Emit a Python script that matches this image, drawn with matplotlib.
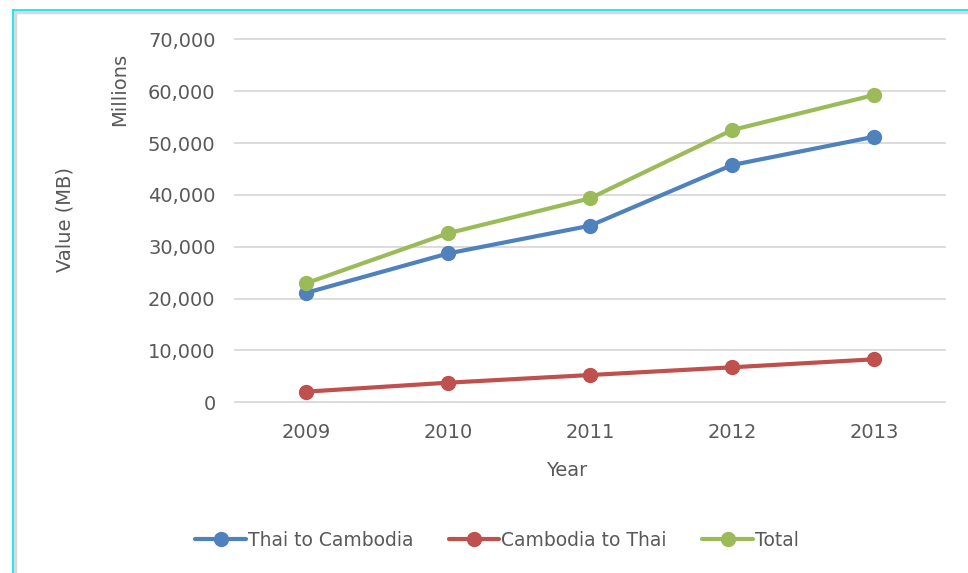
import numpy as np
import matplotlib.pyplot as plt
from matplotlib.lines import Line2D

# Values (millions of baht)
years = ['2009', '2010', '2011', '2012', '2013']
thai_to_cambodia = [21100, 28700, 34050, 45750, 51200]
cambodia_to_thai = [2050, 3780, 5260, 6750, 8290]
total = [22950, 32590, 39330, 52500, 59250]
y_ticks = [0, 10000, 20000, 30000, 40000, 50000, 60000, 70000]

text_col = '#595959'
grid_col = '#D9D9D9'

fig = plt.figure(figsize=(9.68, 5.73), dpi=100)
ax = fig.add_axes([235 / 968, 1 - 402.3 / 573, 710 / 968, 363 / 573])

x = np.arange(len(years))
series = [(thai_to_cambodia, '#4F81BD', 'Thai to Cambodia'),
          (cambodia_to_thai, '#C0504D', 'Cambodia to Thai'),
          (total, '#9BBB59', 'Total')]
for vals, col, lab in series:
    ax.plot(x, vals, color=col, linewidth=3, marker='o', markersize=10,
            label=lab, solid_capstyle='round', zorder=3)

ax.set_xlim(-0.5, len(years) - 0.5)
ax.set_ylim(0, 70000)
ax.set_yticks(y_ticks)
ax.set_yticklabels(['{:,}'.format(v) for v in y_ticks])
ax.set_xticks(x)
ax.set_xticklabels(years)
ax.grid(axis='y', color=grid_col, linewidth=1.3)
for gl in ax.get_ygridlines():
    gl.set_clip_on(False)
ax.set_axisbelow(True)
for s in ax.spines.values():
    s.set_visible(False)
ax.tick_params(length=0, labelsize=14, colors=text_col)
ax.tick_params(axis='y', pad=14)
ax.tick_params(axis='x', pad=15)

fig.text(567 / 968, 1 - 470 / 573, 'Year', ha='center', va='center',
         fontsize=14, color=text_col)
fig.text(65 / 968, 1 - 220 / 573, 'Value (MB)', ha='center', va='center',
         rotation=90, fontsize=14, color=text_col)
fig.text(120 / 968, 1 - 89 / 573, 'Millions', ha='center', va='center',
         rotation=90, fontsize=14, color=text_col)

leg = fig.legend(loc='center', bbox_to_anchor=(497 / 968, 1 - 540 / 573),
                 ncol=3, frameon=False, fontsize=13.5, handlelength=2.7,
                 handletextpad=0.1, columnspacing=1.9)
for t in leg.get_texts():
    t.set_color(text_col)

# outer chart border
fig.add_artist(Line2D([14.5 / 968, 14.5 / 968], [0, 1 - 11.5 / 573],
                      color=grid_col, linewidth=2.5))
fig.add_artist(Line2D([14.5 / 968, 1], [1 - 11.5 / 573, 1 - 11.5 / 573],
                      color=grid_col, linewidth=2.5))
fig.add_artist(Line2D([12.5 / 968, 12.5 / 968], [0, 1 - 9.5 / 573],
                      color='#00E5EE', linewidth=1.2))
fig.add_artist(Line2D([12.5 / 968, 1], [1 - 9.5 / 573, 1 - 9.5 / 573],
                      color='#00E5EE', linewidth=1.2))

fig.savefig('out.png', dpi=100)
